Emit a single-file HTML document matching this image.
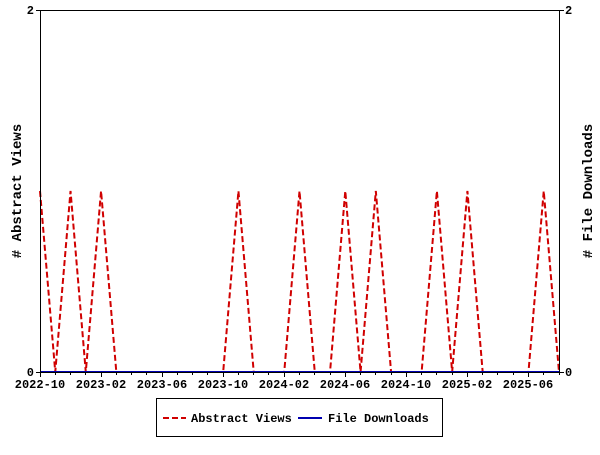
<!DOCTYPE html>
<html><head><style>body{margin:0;background:#fff}</style></head><body>
<svg width="600" height="450" xmlns="http://www.w3.org/2000/svg" font-family="Liberation Mono, DejaVu Sans Mono, monospace" font-size="12" font-weight="bold">
<rect width="600" height="450" fill="#fff"/>
<polyline fill="none" stroke="#d00000" stroke-width="2" stroke-dasharray="6,3" points="40,191 55.26,372 70.53,191 85.79,372 101.06,191 116.32,372 131.59,372 146.85,372 162.12,372 177.38,372 192.65,372 207.91,372 223.18,372 238.44,191 253.71,372 268.97,372 284.24,372 299.5,191 314.76,372 330.03,372 345.29,191 360.56,372 375.82,191 391.09,372 406.35,372 421.62,372 436.88,191 452.15,372 467.41,191 482.68,372 497.94,372 513.21,372 528.47,372 543.74,191 559,372"/>
<line x1="40" y1="372" x2="559" y2="372" stroke="#0000b0" stroke-width="2"/>
<rect x="40.5" y="10.5" width="519" height="362" fill="none" stroke="#000"/>
<g stroke="#000">
<line x1="36" y1="10.5" x2="40" y2="10.5"/><line x1="36" y1="372.5" x2="40" y2="372.5"/>
<line x1="559" y1="10.5" x2="564" y2="10.5"/><line x1="559" y1="372.5" x2="564" y2="372.5"/>
<path d="M40.5 372v5M55.5 372v3M70.5 372v3M85.5 372v3M101.5 372v5M116.5 372v3M131.5 372v3M146.5 372v3M162.5 372v5M177.5 372v3M192.5 372v3M207.5 372v3M223.5 372v5M238.5 372v3M253.5 372v3M268.5 372v3M284.5 372v5M299.5 372v3M314.5 372v3M330.5 372v3M345.5 372v5M360.5 372v3M375.5 372v3M391.5 372v3M406.5 372v5M421.5 372v3M436.5 372v3M452.5 372v3M467.5 372v5M482.5 372v3M497.5 372v3M513.5 372v3M528.5 372v5M543.5 372v3M559.5 372v3"/>
</g>
<text x="34" y="14" text-anchor="end">2</text><text x="34" y="376" text-anchor="end">0</text>
<text x="565" y="14">2</text><text x="565" y="376">0</text>
<g text-anchor="middle">
<text x="40" y="388">2022-10</text><text x="101" y="388">2023-02</text><text x="162" y="388">2023-06</text>
<text x="223" y="388">2023-10</text><text x="284" y="388">2024-02</text><text x="345" y="388">2024-06</text>
<text x="406" y="388">2024-10</text><text x="467" y="388">2025-02</text><text x="528" y="388">2025-06</text>
</g>
<text transform="translate(21,191) rotate(-90)" text-anchor="middle" font-size="14">#  Abstract Views</text>
<text transform="translate(592,191) rotate(-90)" text-anchor="middle" font-size="14"># File Downloads</text>
<rect x="156.5" y="398.5" width="286" height="38" fill="#fff" stroke="#000"/>
<line x1="163" y1="418" x2="186" y2="418" stroke="#d00000" stroke-width="2" stroke-dasharray="6,3"/>
<text x="191" y="422">Abstract Views</text>
<line x1="298" y1="418" x2="322" y2="418" stroke="#0000b0" stroke-width="2"/>
<text x="328" y="422">File Downloads</text>
</svg>
</body></html>
